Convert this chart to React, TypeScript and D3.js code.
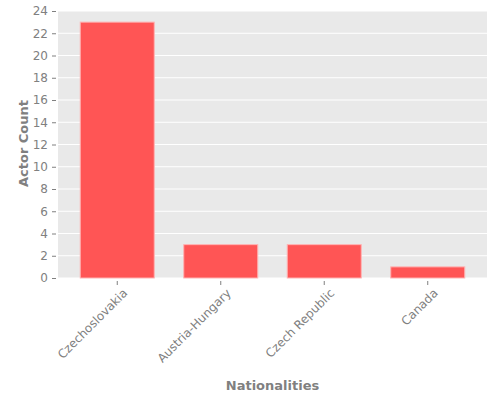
import { useEffect, useRef } from 'react';
import * as d3 from 'd3';

const nationalities = ['Czechoslovakia', 'Austria-Hungary', 'Czech Republic', 'Canada'];
const actorCounts = [23, 3, 3, 1];
const yTicks = d3.range(0, 25, 2);

export default function App() {
  const ref = useRef<SVGSVGElement | null>(null);

  useEffect(() => {
    if (!ref.current) return;
    const svg = d3.select(ref.current);
    svg.selectAll('*').remove();

    const left = 58, right = 487, top = 11, bottom = 278;
    const font = 'DejaVu Sans, sans-serif';
    const grey = '#808080';

    const x = d3.scaleBand<string>()
      .domain(nationalities)
      .range([left, right])
      .paddingInner(0.285)
      .paddingOuter(0.215);

    const y = d3.scaleLinear().domain([0, 24]).range([bottom, top]);

    // fondo
    svg.append('rect')
      .attr('x', left).attr('y', top)
      .attr('width', right - left).attr('height', bottom - top)
      .attr('fill', '#e9e9e9');

    // rejilla
    svg.append('g')
      .selectAll('line')
      .data(yTicks)
      .enter()
      .append('line')
      .attr('x1', left).attr('x2', right)
      .attr('y1', (d) => y(d)).attr('y2', (d) => y(d))
      .attr('stroke', '#ffffff')
      .attr('stroke-width', 1);

    // barras
    svg.append('g')
      .selectAll('rect')
      .data(actorCounts)
      .enter()
      .append('rect')
      .attr('x', (_, i) => x(nationalities[i])!)
      .attr('y', (d) => y(d))
      .attr('width', x.bandwidth())
      .attr('height', (d) => y(0) - y(d))
      .attr('fill', '#ff5555')
      .attr('stroke', '#ffb3b3')
      .attr('stroke-width', 1);

    // eje Y
    const yAxis = svg.append('g')
      .attr('transform', `translate(${left - 2},0)`)
      .call(d3.axisLeft(y).tickValues(yTicks).tickSize(4).tickPadding(4));
    yAxis.select('.domain').remove();
    yAxis.selectAll('line').attr('stroke', grey);
    yAxis.selectAll('text')
      .attr('fill', grey)
      .style('font-family', font)
      .style('font-size', '12px');

    // eje X
    const xAxis = svg.append('g')
      .attr('transform', `translate(0,${bottom + 3})`)
      .call(d3.axisBottom(x).tickSize(4).tickPadding(3));
    xAxis.select('.domain').remove();
    xAxis.selectAll('line').attr('stroke', grey);
    xAxis.selectAll('text')
      .attr('fill', grey)
      .style('font-family', font)
      .style('font-size', '12px')
      .attr('text-anchor', 'end')
      .attr('dy', '0.35em')
      .attr('transform', 'translate(3,5) rotate(-45)');

    // títulos
    svg.append('text')
      .attr('x', (left + right) / 2)
      .attr('y', 390)
      .attr('text-anchor', 'middle')
      .attr('fill', grey)
      .style('font-family', font)
      .style('font-size', '13px')
      .style('font-weight', 'bold')
      .text('Nationalities');

    svg.append('text')
      .attr('transform', `translate(27.5,${(top + bottom) / 2 - 1}) rotate(-90)`)
      .attr('text-anchor', 'middle')
      .attr('fill', grey)
      .style('font-family', font)
      .style('font-size', '13px')
      .style('font-weight', 'bold')
      .text('Actor Count');
  }, []);

  return (
    <svg
      ref={ref}
      width={500}
      height={400}
      style={{ position: 'absolute', left: 0, top: 0, background: '#fff' }}
    />
  );
}
